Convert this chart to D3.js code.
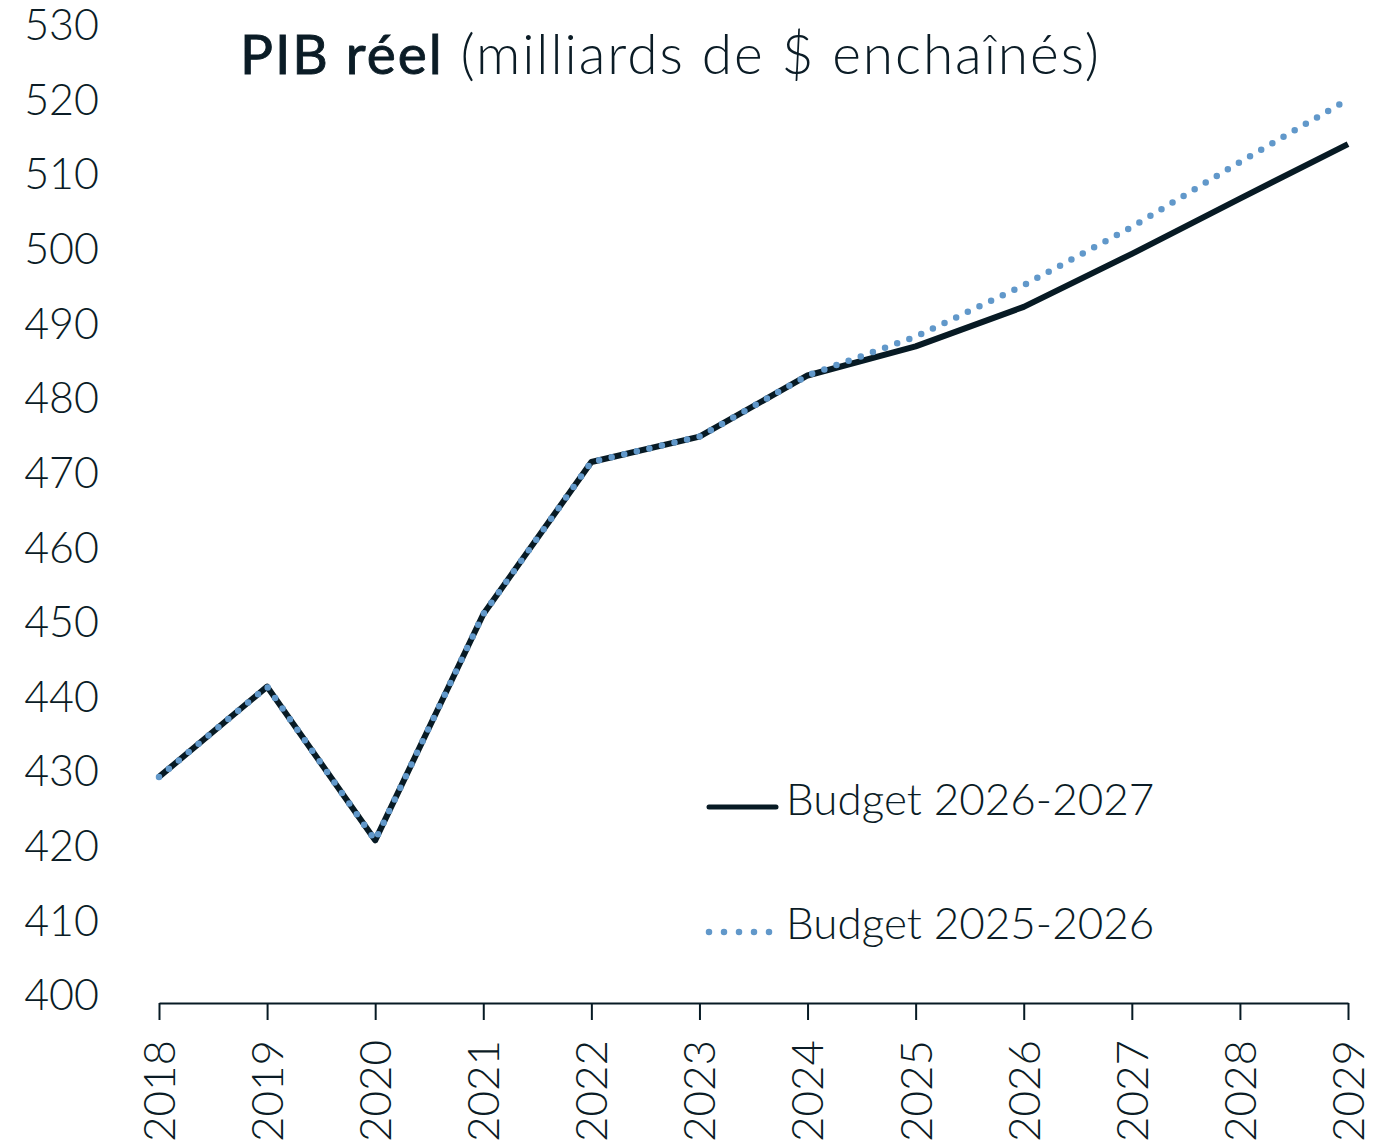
<!DOCTYPE html>
<html lang="fr">
<head>
<meta charset="UTF-8">
<title>PIB réel</title>
<script src="https://d3js.org/d3.v7.min.js"></script>
<style>
  body { margin: 0; background: #fff; }
  text { font-family: Lato, "Open Sans", sans-serif; fill: #0b1c26; }
</style>
</head>
<body>
<div id="chart"></div>
<script>
// data
var years = ["2018","2019","2020","2021","2022","2023","2024","2025","2026","2027","2028","2029"];
var budget2627 = [430.3, 442.4, 421.8, 452.1, 472.5, 475.9, 484.1, 488.0, 493.3, 500.4, 507.8, 515.1];
var budget2526 = [430.3, 442.4, 421.8, 452.1, 472.5, 475.9, 484.1, 489.3, 496.2, 504.0, 512.7, 521.1];
var yTicks = [400, 410, 420, 430, 440, 450, 460, 470, 480, 490, 500, 510, 520, 530];
var seriesNames = ["Budget 2026-2027", "Budget 2025-2026"];

var W = 1387, H = 1142;
var dark = "#071a24", blue = "#6198ca";

var svg = d3.select("#chart").append("svg")
    .attr("width", W).attr("height", H);

var x = d3.scalePoint().domain(years).range([159, 1348]);
var y = d3.scaleLinear().domain([400, 530]).range([1003, 33]);

// y axis labels only
var yAxis = svg.append("g")
    .attr("transform", "translate(99,0)")
    .call(d3.axisLeft(y).tickValues(yTicks).tickSize(0).tickPadding(0));
yAxis.select(".domain").remove();
yAxis.selectAll("text")
    .attr("font-size", 43)
    .attr("font-family", "Lato, sans-serif")
    .attr("font-weight", 300)
    .attr("fill", "#0b1c26")
    .attr("dy", "0.32em")
    .attr("y", -7);

// x axis
var xAxis = svg.append("g")
    .attr("transform", "translate(0,1003)")
    .call(d3.axisBottom(x).tickSize(17).tickSizeOuter(0));
xAxis.select(".domain").attr("stroke", dark).attr("stroke-width", 2);
xAxis.selectAll(".tick line").attr("stroke", dark).attr("stroke-width", 2);
xAxis.selectAll("text")
    .attr("font-size", 44)
    .attr("font-family", "Lato, sans-serif")
    .attr("font-weight", 300)
    .attr("fill", "#0b1c26")
    .attr("transform", "rotate(-90)")
    .attr("text-anchor", "end")
    .attr("x", -37)
    .attr("y", 0)
    .attr("dy", "0.35em");

var line = d3.line()
    .x(function(d, i) { return x(years[i]); })
    .y(function(d) { return y(d); });

svg.append("path")
    .datum(budget2627)
    .attr("fill", "none")
    .attr("stroke", dark)
    .attr("stroke-width", 6)
    .attr("stroke-linejoin", "round")
    .attr("d", line);

svg.append("path")
    .datum(budget2526)
    .attr("fill", "none")
    .attr("stroke", blue)
    .attr("stroke-width", 6.5)
    .attr("stroke-linecap", "round")
    .attr("stroke-dasharray", "0 12.9")
    .attr("d", line);

// title
var title = svg.append("text")
    .attr("x", 240).attr("y", 74)
    .attr("font-size", 55)
    .attr("letter-spacing", 1.95);
title.append("tspan").attr("font-weight", 400)
    .attr("stroke", "#0b1c26").attr("stroke-width", 0.9)
    .text("PIB réel");
title.append("tspan").attr("font-weight", 300).text(" (milliards de $ enchaînés)");

// legend
var lg = svg.append("g");
lg.append("line")
    .attr("x1", 709).attr("x2", 776).attr("y1", 807).attr("y2", 807)
    .attr("stroke", dark).attr("stroke-width", 5).attr("stroke-linecap", "round");
lg.append("line")
    .attr("x1", 709).attr("x2", 770).attr("y1", 932).attr("y2", 932)
    .attr("stroke", blue).attr("stroke-width", 6.5).attr("stroke-linecap", "round")
    .attr("stroke-dasharray", "0 15");
lg.append("text").attr("x", 786).attr("y", 815).attr("font-size", 44)
    .attr("font-weight", 300).text(seriesNames[0]);
lg.append("text").attr("x", 786).attr("y", 939).attr("font-size", 44)
    .attr("font-weight", 300).text(seriesNames[1]);
</script>
</body>
</html>
